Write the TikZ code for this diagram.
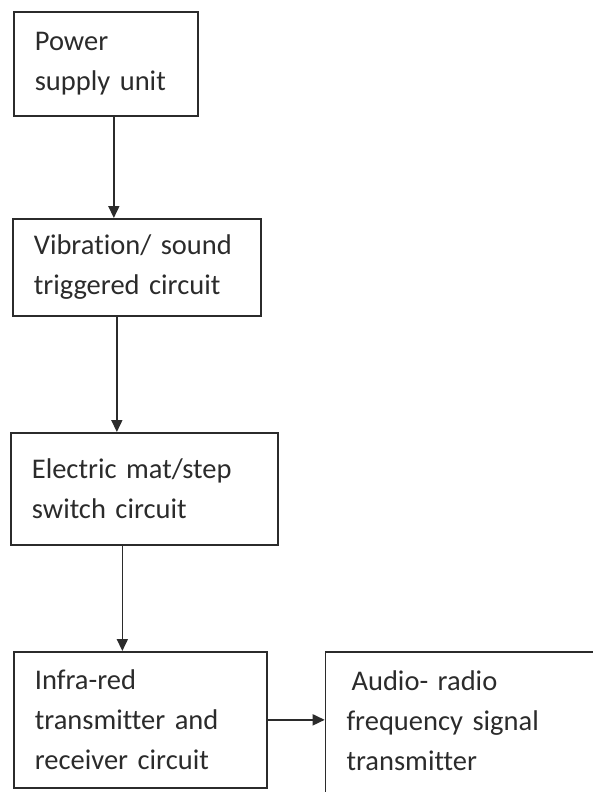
\documentclass[tikz,border=0pt]{standalone}
\usepackage{fontspec}
\setmainfont{Carlito}[Ligatures={NoCommon}]
\usetikzlibrary{arrows.meta,positioning}
\definecolor{ink}{HTML}{2B2B2B}

\begin{document}
\begin{tikzpicture}[x=1pt,y=1pt,font=\fontsize{28.5}{40}\selectfont,>=Triangle]
\tikzset{box/.style={draw=ink,line width=1.7pt,text=ink,align=left,anchor=north west,inner xsep=21pt,inner ysep=0pt}, flow/.style={-{Triangle[length=12pt,width=11pt]},line width=1.7pt,color=ink}}
\useasboundingbox (0,0) rectangle (592,-792);
\node[box,minimum width=184pt,minimum height=104pt,text width=142pt] (power) at (13,-11) {Power\\supply unit};
\node[box,minimum width=248pt,minimum height=97pt,text width=206pt] (vib) at (12,-218) {Vibration/ sound\\triggered circuit};
\node[box,minimum width=267pt,minimum height=112pt,text width=225pt] (mat) at (10,-432) {Electric mat/step\\switch circuit};
\node[box,minimum width=253pt,minimum height=136pt,text width=211pt] (infra) at (13,-651) {Infra-red\\transmitter and\\receiver circuit};
\node[box,minimum width=300pt,minimum height=177pt,text width=258pt,right=57pt of infra.north east,anchor=north west] (audio) {\hspace*{5pt}Audio- radio\\frequency signal\\transmitter\\\mbox{}};
\coordinate (a1) at ([xshift=8pt]power.south);
\coordinate (a2) at ([xshift=-20pt]vib.south);
\coordinate (a3) at ([xshift=-22pt]mat.south);
\draw[flow] (a1) -- (a1 |- vib.north);
\draw[flow] (a2) -- (a2 |- mat.north);
\draw[flow] (a3) -- (a3 |- infra.north);
\draw[flow] (infra.east) -- (infra.east -| audio.west);
\end{tikzpicture}
\end{document}
